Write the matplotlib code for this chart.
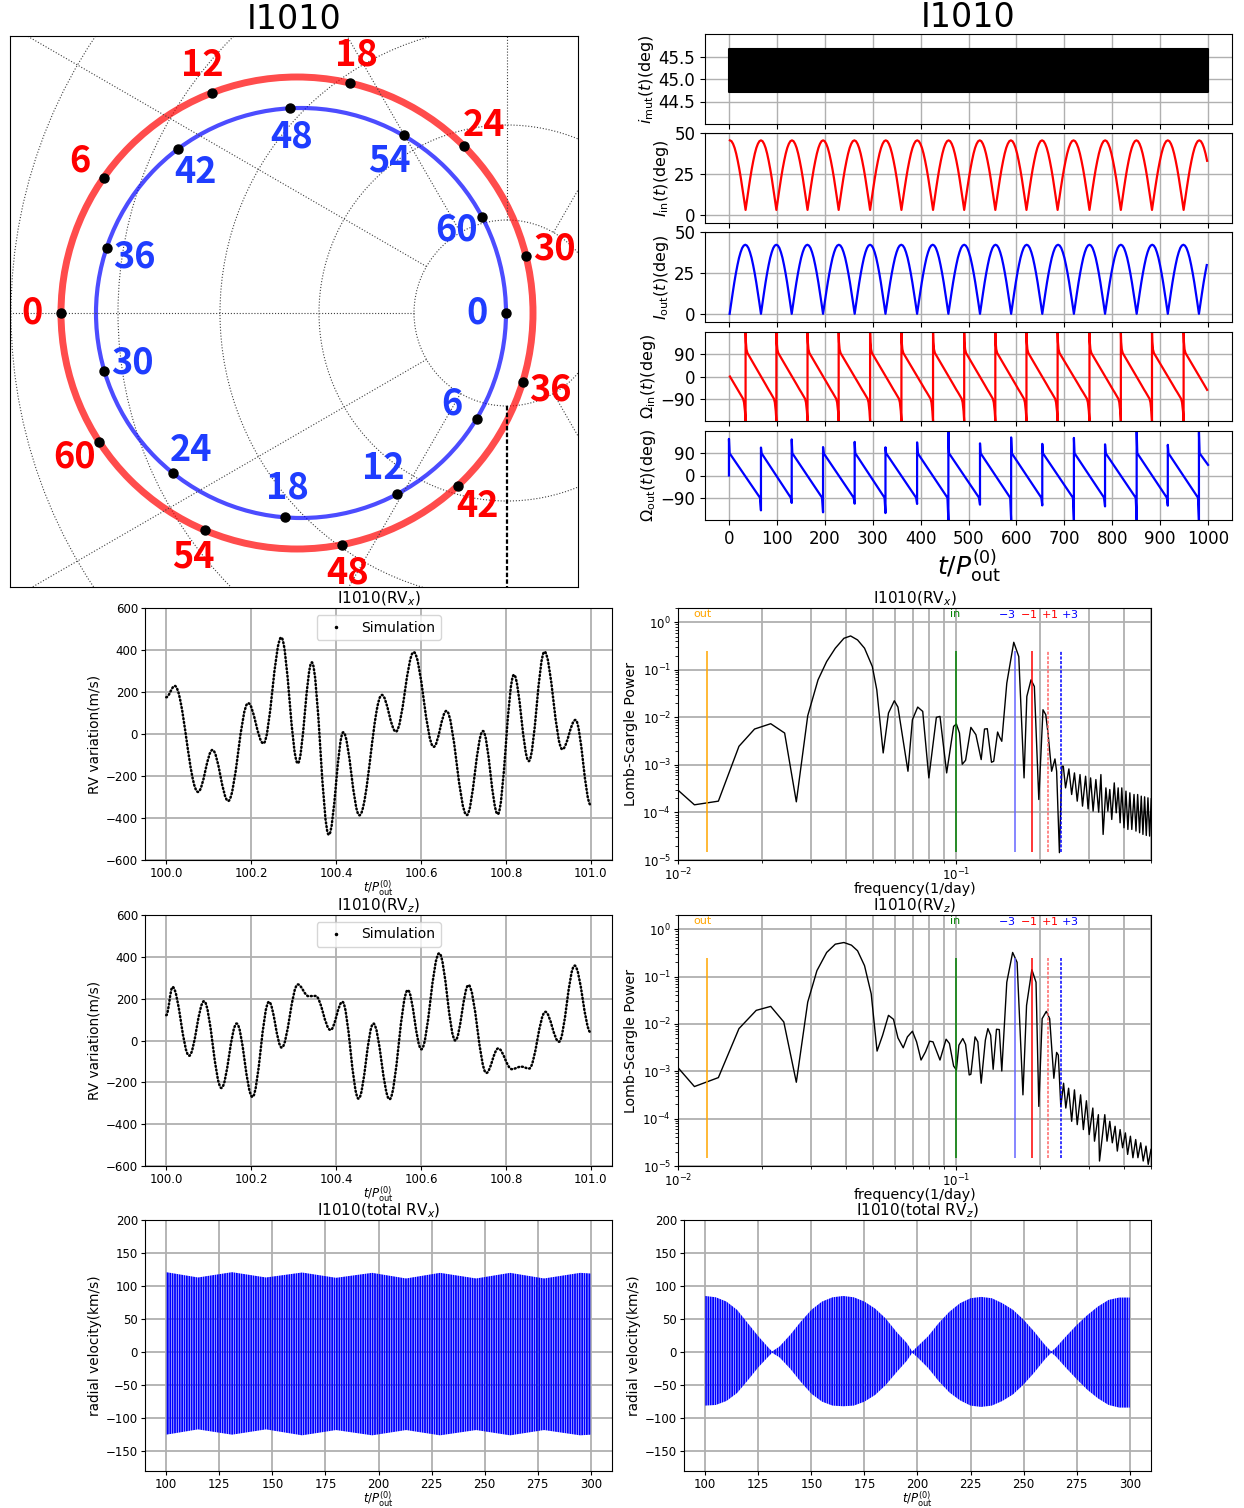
import numpy as np
import matplotlib.pyplot as plt
from matplotlib.path import Path
from matplotlib.patches import PathPatch, Circle
from matplotlib.ticker import FormatStrFormatter

plt.rcParams['hatch.color'] = 'blue'
plt.rcParams['hatch.linewidth'] = 1.3

# ---------------- data ----------------
# orbit diagram (top left), positions in grid units, grid centre at (0, 0)
grid_r = [0.93, 1.88, 2.87, 3.89, 4.96]
grid_ang = [60, 90, 120, 150, 180, 210, 240, 270, 300]
red_c, red_r = (-2.10, 0.0), 2.36
blue_c, blue_r = (-2.06, 0.0), 2.05
orbit_labels = [0, 6, 12, 18, 24, 30, 36, 42, 48, 54, 60]
red_ang = [180, 145, 111, 77, 45, 14, -17, -47, -79, -113, -147]
blue_ang = [0, -31, -62, -94.5, -128.5, -163.5, -198.5, -233, -267, -300, -332]

# mutual inclination band
imut_t = [0, 1000]
imut_lo = [44.70, 44.70]
imut_hi = [45.66, 45.66]

# inner orbit: times of the I_in minima / Omega_in wraps
ev_in = [34.7, 99, 164, 229, 294.6, 360, 426, 491, 556, 621, 686, 752.5, 818, 883, 949]
# outer orbit: times of the I_out minima / Omega_out wraps
ev_out = [0, 66.8, 131, 196.4, 262.4, 326.7, 392.7, 458, 524, 589, 654, 720, 785, 851, 916, 981]
cycle = 65.4

# one cycle (minimum to minimum) of each curve
phase = [0, .05, .1, .15, .2, .25, .3, .35, .4, .45, .5, .55, .6, .65, .7, .75, .8, .85, .9, .95, 1]
inc_in_cycle = [3, 9.6, 16.1, 22.3, 28, 33, 37.4, 40.9, 43.4, 45, 45.5,
                45, 43.4, 40.9, 37.4, 33, 28, 22.3, 16.1, 9.6, 3]
inc_out_cycle = [0, 6.6, 13, 19.2, 24.8, 29.8, 34.2, 37.6, 40.2, 41.7, 42.2,
                 41.7, 40.2, 37.6, 34.2, 29.8, 24.8, 19.2, 13, 6.6, 0]
om_phase = [0, 0.01, 0.03, 0.06, 0.2, 0.35, 0.5, 0.65, 0.75, 0.8, 0.92, 0.95, 0.98, 1.0]
om_in_cycle = [180, 140, 110, 95, 65, 32, 0, -32, -54, -64, -90, -105, -140, -180]

om_out_lo = [0, -141, -111, -149, -114, -152, -115, -180, -118, -180, -121, -180, -125, -180, -122, -180]
om_out_hi = [148, 113, 146, 115, 136, 114, 134, 180, 130, 154, 128, 152, 126, 180, 124, 175]
om_out_end = (1000, 43)

# RV variation extrema (t / P_out, m/s)
rvx_t = [100.0, 100.02, 100.075, 100.109, 100.146, 100.193, 100.229, 100.271, 100.310,
         100.343, 100.383, 100.417, 100.455, 100.508, 100.541, 100.583, 100.630, 100.660,
         100.708, 100.746, 100.781, 100.819, 100.854, 100.891, 100.933, 100.964, 101.0]
rvx_v = [175, 229, -276, -76, -319, 147, -45, 460, -140, 341, -480, 8, -387, 186, 11,
         390, -61, 110, -386, 14, -382, 282, -129, 392, -73, 67, -339]
rvz_t = [100.0, 100.015, 100.054, 100.089, 100.130, 100.166, 100.203, 100.242, 100.272,
         100.310, 100.335, 100.352, 100.387, 100.415, 100.453, 100.488, 100.526, 100.569,
         100.601, 100.643, 100.681, 100.712, 100.754, 100.782, 100.814, 100.836, 100.855,
         100.893, 100.925, 100.962, 101.0]
rvz_v = [121, 256, -73, 188, -227, 81, -270, 185, -34, 268, 212, 213, 50, 185, -278, 81,
         -281, 241, -42, 417, 0, 265, -155, -38, -137, -125, -134, 137, -6, 358, 38]

# Lomb-Scargle periodograms (log10 frequency, log10 power)
lsx_lf = [-2.000, -1.941, -1.855, -1.781, -1.725, -1.667, -1.617, -1.575, -1.534, -1.497,
          -1.466, -1.435, -1.404, -1.380, -1.355, -1.330, -1.302, -1.286, -1.263, -1.244,
          -1.223, -1.210, -1.174, -1.158, -1.139, -1.121, -1.099, -1.072, -1.059, -1.035,
          -1.010, -1.000, -0.989, -0.979, -0.967, -0.948, -0.930, -0.911, -0.899, -0.889,
          -0.874, -0.866, -0.852, -0.846, -0.837, -0.819, -0.794, -0.776, -0.757, -0.747,
          -0.732, -0.720, -0.704, -0.689, -0.679, -0.671, -0.658, -0.646, -0.640, -0.630,
          -0.621,
          -0.616, -0.608, -0.596, -0.586, -0.576, -0.566, -0.556, -0.547, -0.536, -0.527,
          -0.518, -0.509, -0.499, -0.489, -0.481, -0.473, -0.463, -0.456, -0.449, -0.442,
          -0.433, -0.426, -0.419, -0.412, -0.406, -0.398, -0.391, -0.384, -0.377, -0.370,
          -0.362, -0.355, -0.349, -0.342, -0.336, -0.330, -0.324, -0.318, -0.312, -0.306,
          -0.300]
lsx_lp = [-3.531, -3.839, -3.762, -2.608, -2.245, -2.133, -2.329, -3.776, -1.965, -1.210,
          -0.825, -0.545, -0.336, -0.287, -0.371, -0.545, -0.930, -1.420, -2.748, -1.909,
          -1.650, -1.783, -3.133, -2.049, -1.783, -1.874, -3.273, -2.000, -1.979, -3.168,
          -2.189, -2.140, -2.329, -2.986, -2.902, -2.210, -2.364, -2.888, -2.245, -2.238,
          -2.944, -2.923, -2.308, -2.399, -2.503, -1.280, -0.420, -0.720, -3.273, -1.559,
          -1.210, -1.350, -3.727, -1.839, -1.944, -2.329, -3.133, -2.874, -3.133, -4.846,
          -3.028,
          -3.028, -3.483, -3.084, -3.622, -3.168, -3.762, -3.203, -3.867, -3.238, -3.923,
          -3.273, -3.972, -3.308, -3.993, -3.203, -4.462, -3.483, -3.972, -3.517, -4.147,
          -3.378, -4.007, -3.483, -4.217, -3.483, -4.322, -3.552, -4.357, -3.587, -4.357,
          -3.622, -4.392, -3.622, -4.427, -3.657, -4.462, -3.671, -4.483, -3.692, -4.497,
          -3.713]
lsz_lf = [-2.000, -1.941, -1.855, -1.781, -1.719, -1.667, -1.620, -1.575, -1.534, -1.501,
          -1.466, -1.435, -1.404, -1.377, -1.355, -1.330, -1.306, -1.285, -1.265, -1.244,
          -1.226, -1.210, -1.191, -1.176, -1.158, -1.143, -1.127, -1.111, -1.096, -1.084,
          -1.059, -1.037, -1.025, -1.010, -1.000, -0.991, -0.977, -0.967, -0.954, -0.948,
          -0.933, -0.923, -0.911, -0.896, -0.887, -0.877, -0.868, -0.856, -0.846, -0.837,
          -0.819, -0.798, -0.782, -0.761, -0.748, -0.729, -0.714, -0.704, -0.692, -0.677,
          -0.665, -0.650, -0.640, -0.634, -0.625,
          -0.615, -0.607, -0.597, -0.586, -0.576, -0.566, -0.554, -0.544, -0.533, -0.523,
          -0.510, -0.504, -0.490, -0.486, -0.467, -0.459, -0.449, -0.440, -0.430, -0.422,
          -0.412, -0.403, -0.393, -0.385, -0.375, -0.366, -0.356, -0.348, -0.338, -0.329,
          -0.319, -0.311, -0.301]
lsz_lp = [-2.923, -3.322, -3.133, -2.098, -1.713, -1.629, -1.958, -3.231, -1.538, -0.874,
          -0.490, -0.315, -0.280, -0.336, -0.455, -0.769, -1.364, -2.573, -2.238, -1.818,
          -1.902, -2.294, -2.503, -2.273, -2.154, -2.378, -2.762, -2.587, -2.364, -2.378,
          -2.762, -2.322, -2.413, -2.888, -2.972, -2.448, -2.308, -2.434, -3.077, -3.063,
          -2.273, -2.378, -3.252, -2.343, -2.098, -2.238, -2.958, -2.112, -2.119, -2.993,
          -1.119, -0.490, -0.699, -3.497, -1.608, -0.853, -1.119, -3.741, -1.888, -1.734,
          -1.888, -3.147, -2.601, -2.657, -3.741,
          -3.252, -3.776, -3.357, -4.056, -3.392, -4.126, -3.497, -4.231, -3.622, -4.336,
          -3.776, -4.476, -3.916, -4.895, -3.916, -4.476, -4.056, -4.510, -4.161, -4.685,
          -4.231, -4.615, -4.301, -4.755, -4.371, -4.825, -4.441, -4.825, -4.510, -4.895,
          -4.580, -4.965, -4.650]
mark_f = [0.0127, 0.1, 0.1619, 0.1873, 0.2127, 0.2381]
mark_col = ['orange', 'green', (0.4, 0.4, 1.0), 'red', (1.0, 0.4, 0.4), 'blue']
mark_ls = ['-', '-', '-', '-', (0, (2, 1)), (0, (2, 1))]
mark_txt = ['out', 'in', '$-3$', '$-1$', '$+1$', '$+3$']
mark_txt_f = [0.0122, 0.0989, 0.1517, 0.1815, 0.2164, 0.2545]
mark_txt_col = ['orange', 'green', 'blue', 'red', 'red', 'blue']

# total RV envelopes (km/s)
totx_t = [100, 115, 131, 147, 164, 180, 197, 213, 229, 246, 262, 278, 295, 300]
totx_hi = [121, 113, 121, 113, 120.5, 112.5, 120, 111.5, 120, 111.5, 120, 111.5, 120, 119]
totx_lo = [-125, -117, -125, -117, -126, -118, -126, -118, -126, -118, -126, -118, -126, -125]
totz_t = [100, 105, 110, 115, 120, 125, 130, 131.5, 135, 140, 145, 150, 155, 160, 165, 170,
          175, 180, 185, 190, 195, 197.5, 200, 205, 210, 215, 220, 225, 230, 235, 240, 245,
          250, 255, 260, 263, 265, 270, 275, 280, 285, 290, 295, 300]
totz_hi = [85, 83, 76.5, 64, 44, 24, 6, 1, 8.5, 26, 46, 64, 76.5, 83, 85, 83, 76.5, 66, 51,
           31, 13.6, 1, 8.5, 24, 44, 61, 74, 81.6, 83.6, 81.6, 74, 64, 49, 31, 11, 1, 6, 24,
           41, 56, 69, 79, 82.6, 82.6]
totz_lo = [-81, -80, -74, -62, -43, -23, -6, -1, -8, -25, -45, -63, -75, -81, -82, -81, -75,
           -65, -50, -31, -13, -1, -8, -24, -44, -61, -73, -81, -83, -81, -74, -64, -49, -31,
           -11, -1, -6, -24, -41, -57, -70, -80, -84, -84]

# ---------------- figure ----------------
W, H = 1244, 1508
fig = plt.figure(figsize=(W / 100, H / 100), dpi=100)


def box(l, t, r, b):
    return fig.add_axes([l / W, 1 - b / H, (r - l) / W, (b - t) / H])


def tile(events, ph, prof, t0=0, t1=1000):
    ev = [events[0] - cycle] + list(events) + [events[-1] + cycle]
    ts, vs = [], []
    for a, b in zip(ev[:-1], ev[1:]):
        for p, v in zip(ph, prof):
            t = a + p * (b - a)
            if t0 <= t <= t1:
                ts.append(t)
                vs.append(v)
    return ts, vs


def smooth(t, v, c=0.36):
    verts, codes = [(t[0], v[0])], [Path.MOVETO]
    for i in range(len(t) - 1):
        d = t[i + 1] - t[i]
        verts += [(t[i] + c * d, v[i]), (t[i + 1] - c * d, v[i + 1]), (t[i + 1], v[i + 1])]
        codes += [Path.CURVE4] * 3
    return Path(verts, codes)


# ---- orbit diagram ----
ax = box(10, 36, 578, 587)
ax.set_xlim(-4.97, 0.71)
ax.set_ylim(-2.74, 2.77)
ax.set_xticks([])
ax.set_yticks([])
for r in grid_r:
    ax.add_patch(Circle((0, 0), r, fill=False, ls=':', lw=0.8, ec='0.25'))
for a in grid_ang:
    ca, sa = np.cos(np.radians(a)), np.sin(np.radians(a))
    if a == 270:
        ax.plot([grid_r[0] * ca, 7 * ca], [grid_r[0] * sa, 7 * sa], color='k', lw=1.6,
                ls=(0, (2, 1)))
    else:
        ax.plot([grid_r[0] * ca, 7 * ca], [grid_r[0] * sa, 7 * sa], color='0.25', lw=0.8, ls=':')
for c, r, angs, col, lcol, off in [(red_c, red_r, red_ang, 'red', 'red', 0.29),
                                   (blue_c, blue_r, blue_ang, 'blue', '#1f3dff', -0.29)]:
    ax.add_patch(Circle(c, r, fill=False, lw=5 if col == 'red' else 3, ec=col, alpha=0.7))
    th = np.radians(angs)
    ax.plot(c[0] + r * np.cos(th), c[1] + r * np.sin(th), 'o', color='k', ms=6.5, zorder=5)
    for lab, a in zip(orbit_labels, th):
        ax.text(c[0] + (r + off) * np.cos(a), c[1] + (r + off) * np.sin(a), str(lab),
                color=lcol, fontsize=26, fontweight='bold', ha='center', va='center',
                family=['Noto Sans CJK JP', 'DejaVu Sans'])
ax.set_title('I1010', fontsize=24, pad=5)

# ---- time evolution ----
tr = [(34, 124), (133, 223), (232, 322), (332, 421), (431, 520)]
axs = [box(705, t, 1232, b) for t, b in tr]
inc_in_t, inc_in_v = tile(ev_in, phase, inc_in_cycle)
inc_out_t, inc_out_v = tile(ev_out[1:], phase, inc_out_cycle)
om_in_t, om_in_v = tile(ev_in, om_phase, om_in_cycle)
om_out_t, om_out_v = [], []
for k, e in enumerate(ev_out):
    d = (ev_out[k + 1] if k + 1 < len(ev_out) else e + cycle) - e
    om_out_t += [e, e, e + 0.02 * d]
    om_out_v += [om_out_lo[k], om_out_hi[k], 90]
    if k + 1 < len(ev_out):
        om_out_t.append(e + 0.97 * d)
        om_out_v.append(-90)
om_out_t.append(om_out_end[0])
om_out_v.append(om_out_end[1])

axs[0].fill_between(imut_t, imut_lo, imut_hi, color='k', lw=1.5)
axs[1].plot(inc_in_t, inc_in_v, color='red', lw=1.6)
axs[2].plot(inc_out_t, inc_out_v, color='blue', lw=1.6)
axs[3].plot(om_in_t, om_in_v, color='red', lw=1.6)
axs[4].plot(om_out_t, om_out_v, color='blue', lw=1.6)
ylabels = [r'$i_{\rm mut}(t)$(deg)', r'$I_{\rm in}(t)$(deg)', r'$I_{\rm out}(t)$(deg)',
           r'$\Omega_{\rm in}(t)$(deg)', r'$\Omega_{\rm out}(t)$(deg)']
ylims = [(44, 46), (-5, 50), (-5, 50), (-180, 180), (-180, 180)]
yticks = [[44.5, 45.0, 45.5], [0, 25, 50], [0, 25, 50], [-90, 0, 90], [-90, 0, 90]]
for i, a in enumerate(axs):
    a.set_xlim(-50, 1050)
    a.set_xticks(range(0, 1001, 100))
    a.set_ylim(*ylims[i])
    a.set_yticks(yticks[i])
    a.set_ylabel(ylabels[i], fontsize=11.5, labelpad=2)
    a.grid(True, color='#b0b0b0', lw=1)
    a.set_axisbelow(True)
    a.tick_params(labelsize=12)
    if i < 4:
        a.tick_params(labelbottom=False)
axs[0].yaxis.set_major_formatter(FormatStrFormatter('%.1f'))
axs[0].set_title('I1010', fontsize=24, pad=3)
axs[4].set_xlabel(r'$t/P_{\rm out}^{(0)}$', fontsize=18, labelpad=0)


def lower_style(a, title, ylabel, xlabel, xlsize=8.5):
    a.grid(True, color='#b0b0b0', lw=1.3)
    a.set_axisbelow(True)
    a.tick_params(labelsize=8.5, length=3, pad=2)
    a.set_title(title, fontsize=11, pad=1)
    a.set_ylabel(ylabel, fontsize=9.8, labelpad=3)
    a.set_xlabel(xlabel, fontsize=xlsize, labelpad=-1)


# ---- RV variation ----
for (t, b), rt, rv, name in [((608, 860), rvx_t, rvx_v, 'x'), ((915, 1166), rvz_t, rvz_v, 'z')]:
    a = box(145, t, 612, b)
    a.add_patch(PathPatch(smooth(rt, rv), fill=False, ec='k', lw=1.8, ls=(0, (0.4, 1.1)),
                          capstyle='round'))
    a.plot([], [], '.', color='k', ms=3, label='Simulation')
    a.set_xlim(99.95, 101.05)
    a.set_ylim(-600, 600)
    a.set_xticks([100.0, 100.2, 100.4, 100.6, 100.8, 101.0])
    a.set_yticks(range(-600, 601, 200))
    a.xaxis.set_major_formatter(FormatStrFormatter('%.1f'))
    a.legend(loc='upper center', fontsize=10)
    lower_style(a, 'I1010(RV$_%s$)' % name, 'RV variation(m/s)', r'$t/P_{\rm out}^{(0)}$')

# ---- periodograms ----
for (t, b), lf, lp, name in [((608, 860), lsx_lf, lsx_lp, 'x'), ((915, 1166), lsz_lf, lsz_lp, 'z')]:
    a = box(678, t, 1151, b)
    a.loglog(10 ** np.array(lf), 10 ** np.array(lp), color='k', lw=1)
    for f, c, ls in zip(mark_f, mark_col, mark_ls):
        a.vlines(f, 1.5e-5, 0.25, colors=[c], linestyles=[ls], lw=1.1)
    for f, s, c in zip(mark_txt_f, mark_txt, mark_txt_col):
        a.text(f, 1.47, s, color=c, fontsize=8, ha='center', va='center')
    a.set_xlim(0.01, 0.5)
    a.set_ylim(1e-5, 2)
    a.xaxis.grid(True, which='minor', color='#b0b0b0', lw=1.3)
    lower_style(a, 'I1010(RV$_%s$)' % name, 'Lomb-Scargle Power', 'frequency(1/day)', 10.3)
    a.set_ylabel('Lomb-Scargle Power', fontsize=10.2, labelpad=3)

# ---- total RV ----
for (l, r), tt, lo, hi, name in [((145, 612), totx_t, totx_lo, totx_hi, 'x'),
                                 ((684, 1151), totz_t, totz_lo, totz_hi, 'z')]:
    a = box(l, 1220, r, 1471)
    a.fill_between(tt, lo, hi, facecolor='none', edgecolor='blue', hatch='|' * 7, lw=0)
    a.set_xlim(90, 310)
    a.set_ylim(-180, 200)
    a.set_xticks(range(100, 301, 25))
    a.set_yticks(range(-150, 201, 50))
    lower_style(a, 'I1010(total RV$_%s$)' % name, 'radial velocity(km/s)',
                r'$t/P_{\rm out}^{(0)}$')

fig.savefig('out.png', dpi=100)
